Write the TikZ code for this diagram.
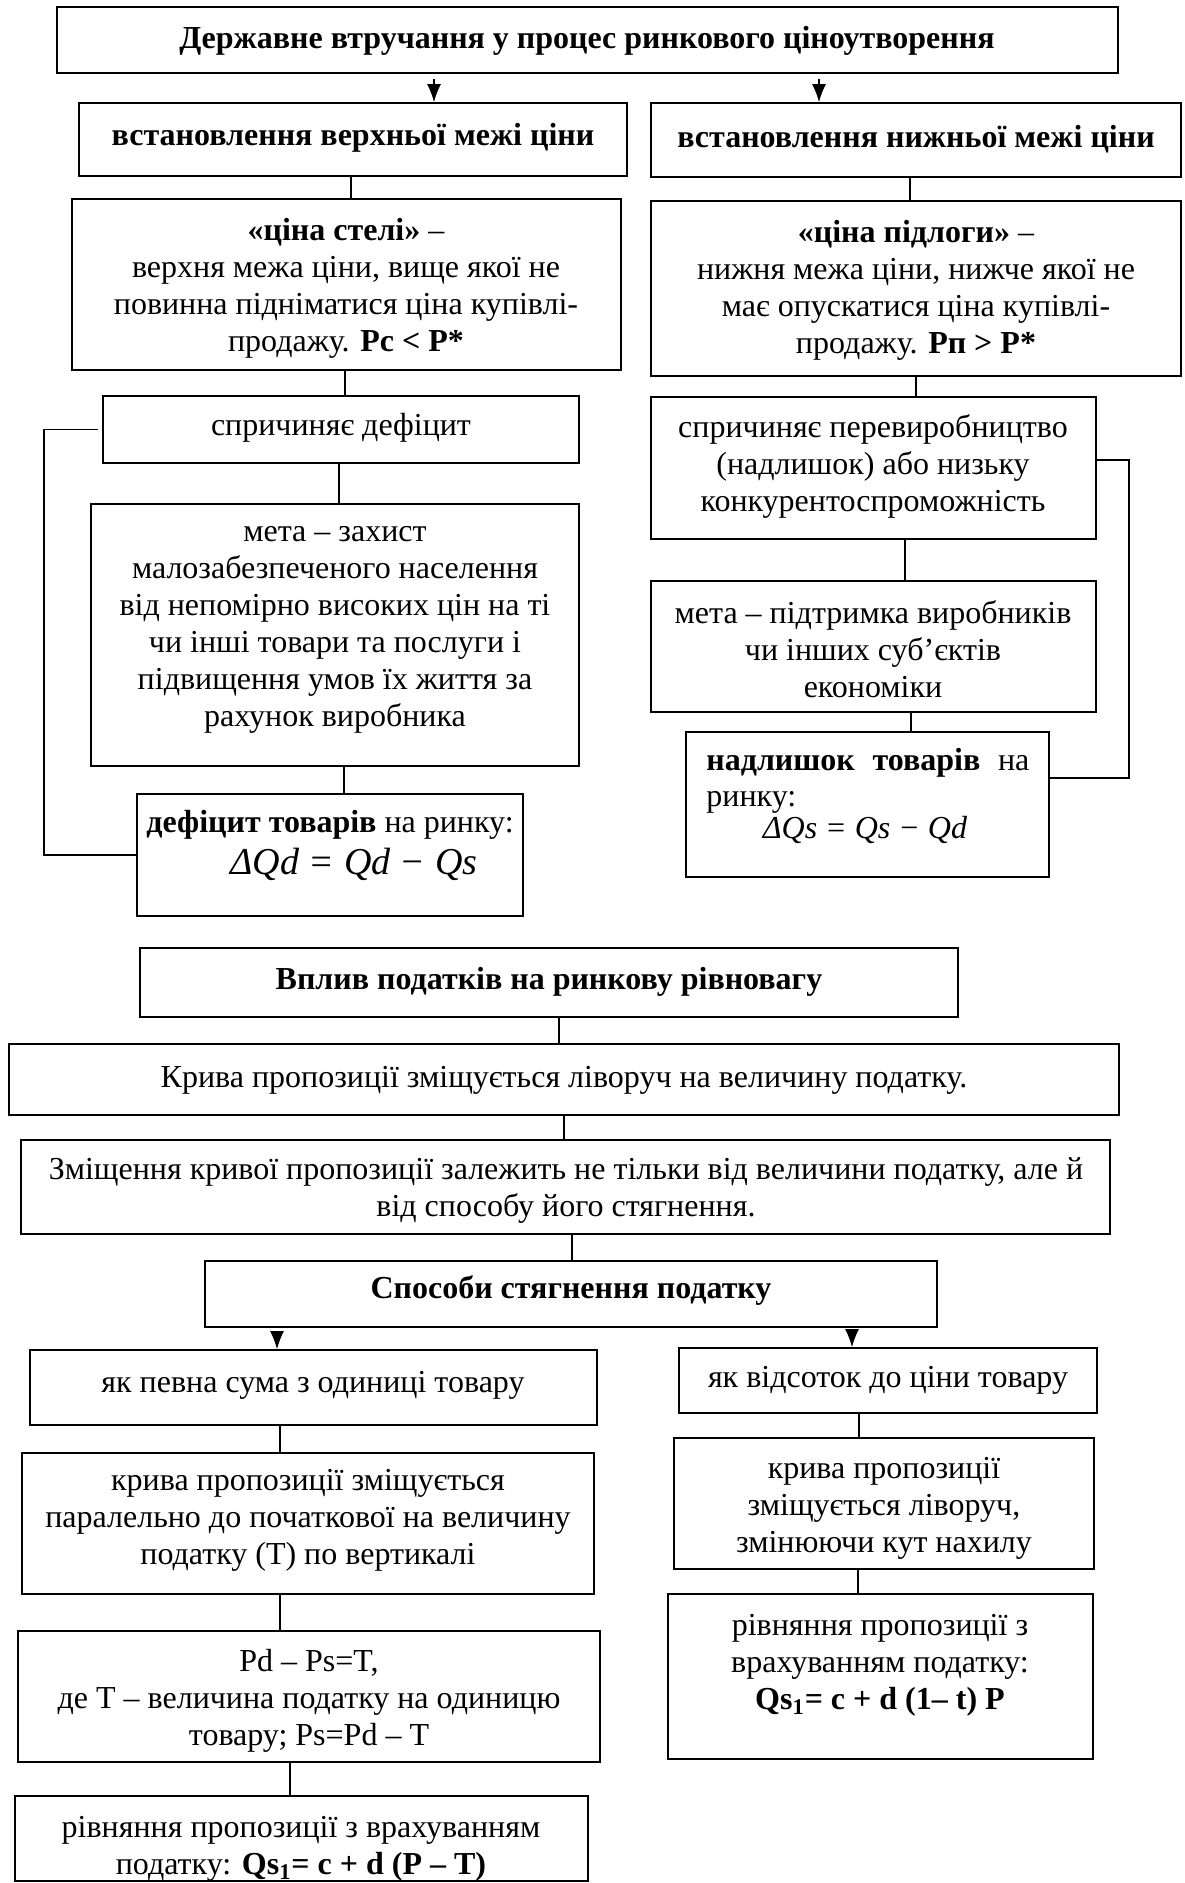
\documentclass[tikz,border=0pt]{standalone}
\usepackage{fontspec}
\setmainfont{Liberation Serif}
\usetikzlibrary{arrows.meta,fit}
\begin{document}
\begin{tikzpicture}[x=0.5pt,y=-0.5pt,
  box/.style={draw,line width=0.9pt,inner sep=0pt,rectangle},
  txt/.style={align=center,inner sep=0pt,font=\fontsize{16}{18.5}\selectfont},
  link/.style={line width=0.6pt},
  arr/.style={line width=0.6pt,-{Latex[length=9pt,width=7pt]}},
  ]
\fill[white] (0,0) rectangle (1184,1883);
\useasboundingbox (0,0) rectangle (1184,1883);
\newcommand\vlink[3]{\coordinate (lx) at (#3,0);
  \draw[link] (#1.south -| lx) -- (#2.north -| lx);}
\newcommand\varrow[3]{\coordinate (lx) at (#3,0);
  \draw[arr,shorten <=2pt] (#1.south -| lx) -- (#2.north -| lx);}

% ---------- price regulation ----------
\node[box,fit={(57,7)(1118,73)}] (top) {};
\node[txt] (topt) at (587,41) {\textbf{Державне втручання у процес ринкового ціноутворення}};

\node[box,fit={(79,103)(627,176)}] (A1) {};
\node[txt] (A1t) at (353,138) {\textbf{встановлення верхньої межі ціни}};
\node[box,fit={(651,103)(1181,177)}] (B1) {};
\node[txt] (B1t) at (916,139) {\textbf{встановлення нижньої межі ціни}};

\node[box,fit={(72,199)(621,370)}] (A2) {};
\node[txt] (A2t) at (346,288) {\textbf{«ціна стелі»} –\\ верхня межа ціни, вище якої не\\ повинна підніматися ціна купівлі-\\ продажу. \textbf{Pc < P*}};
\node[box,fit={(651,201)(1181,376)}] (B2) {};
\node[txt] (B2t) at (916,290) {\textbf{«ціна підлоги»} –\\ нижня межа ціни, нижче якої не\\ має опускатися ціна купівлі-\\ продажу. \textbf{Pп > P*}};

\node[box,fit={(103,396)(579,463)}] (A3) {};
\node[txt] (A3t) at (341,428) {спричиняє дефіцит};
\node[box,fit={(651,397)(1096,539)}] (B3) {};
\node[txt] (B3t) at (873,466) {спричиняє перевиробництво\\ (надлишок) або низьку\\ конкурентоспроможність};

\node[box,fit={(91,504)(579,766)}] (A4) {};
\node[txt] (A4t) at (335,630) {мета – захист\\ малозабезпеченого населення\\ від непомірно високих цін на ті\\ чи інші товари та послуги і\\ підвищення умов їх життя за\\ рахунок виробника};
\node[box,fit={(651,581)(1096,712)}] (B4) {};
\node[txt] (B4t) at (873,649) {мета – підтримка виробників\\ чи інших суб’єктів\\ економіки};

\node[box,fit={(137,794)(523,916)}] (A5) {};
\node[txt] (A5t) at (330,825) {\textbf{дефіцит товарів} на ринку:};
\node[txt,font=\fontsize{19}{22}\selectfont] (A5f) at (354,864) {\textit{ΔQd = Qd − Qs}};
\node[box,fit={(686,732)(1049,877)}] (B5) {};
\node[txt,anchor=base west] (B5t) at (706,770) {\makebox[161.5pt][s]{\textbf{надлишок} \hfill \textbf{товарів} \hfill на}};
\node[txt,anchor=base west] (B5u) at (706,806) {ринку:};
\node[txt,font=\fontsize{16}{19}\selectfont] (B5f) at (865,830) {\textit{ΔQs = Qs − Qd}};

\coordinate (xa) at (434,0);
\coordinate (xb) at (819,0);
\draw[arr,shorten <=2.5pt] (top.south -| xa) -- (A1.north -| xa);
\draw[arr,shorten <=2.5pt] (top.south -| xb) -- (B1.north -| xb);

\vlink{A1}{A2}{351}
\vlink{B1}{B2}{910}
\vlink{A2}{A3}{345}
\vlink{B2}{B3}{916}
\vlink{A3}{A4}{339}
\vlink{B3}{B4}{905}
\vlink{A4}{A5}{344}
\vlink{B4}{B5}{911}

% side brackets
\coordinate (lb) at (44,0);
\draw[link] ([xshift=-2pt]A3.west) -- (A3.west -| lb) -- (A5.west -| lb) -- (A5.west);
\coordinate (rb1) at (1129,460);
\coordinate (rb2) at (1129,778);
\draw[link] (B3.east |- rb1) -- (rb1) -- (rb2) -- (B5.east |- rb2);

% ---------- taxes ----------
\node[box,fit={(140,948)(958,1017)}] (C1) {};
\node[txt] (C1t) at (549,982) {\textbf{Вплив податків на ринкову рівновагу}};
\node[box,fit={(9,1044)(1119,1115)}] (C2) {};
\node[txt] (C2t) at (564,1080) {Крива пропозиції зміщується ліворуч на величину податку.};
\node[box,fit={(21,1140)(1110,1234)}] (C3) {};
\node[txt] (C3t) at (566,1190) {Зміщення кривої пропозиції залежить не тільки від величини податку, але й\\ від способу його стягнення.};
\node[box,fit={(205,1261)(937,1327)}] (C4) {};
\node[txt] (C4t) at (571,1290) {\textbf{Способи стягнення податку}};

\vlink{C1}{C2}{559}
\vlink{C2}{C3}{564}
\vlink{C3}{C4}{572}

\node[box,fit={(30,1350)(597,1425)}] (D1) {};
\node[txt] (D1t) at (313,1385) {як певна сума з одиниці товару};
\node[box,fit={(679,1348)(1097,1413)}] (E1) {};
\node[txt] (E1t) at (888,1380) {як відсоток до ціни товару};

\varrow{C4}{D1}{277}
\varrow{C4}{E1}{852}

\node[box,fit={(22,1453)(594,1594)}] (D2) {};
\node[txt] (D2t) at (308,1520) {крива пропозиції зміщується\\ паралельно до початкової на величину\\ податку (Т) по вертикалі};
\node[box,fit={(674,1438)(1094,1569)}] (E2) {};
\node[txt] (E2t) at (884,1508) {крива пропозиції\\ зміщується ліворуч,\\ змінюючи кут нахилу};

\node[box,fit={(18,1631)(600,1762)}] (D3) {};
\node[txt] (D3t) at (309,1701) {Pd – Ps=T,\\ де Т – величина податку на одиницю\\ товару; Ps=Pd – T};
\node[box,fit={(668,1594)(1093,1759)}] (E3) {};
\node[txt] (E3t) at (880,1665) {рівняння пропозиції з\\ врахуванням податку:\\ \textbf{Qs\textsubscript{1}= c + d (1– t) P}};

\node[box,fit={(15,1796)(588,1881)}] (D4) {};
\node[txt] (D4t) at (301,1849) {рівняння пропозиції з врахуванням\\ податку: \textbf{Qs\textsubscript{1}= c + d (P – T)}};

\vlink{D1}{D2}{280}
\vlink{D2}{D3}{280}
\vlink{D3}{D4}{290}
\vlink{E1}{E2}{859}
\vlink{E2}{E3}{858}
\end{tikzpicture}
\end{document}
